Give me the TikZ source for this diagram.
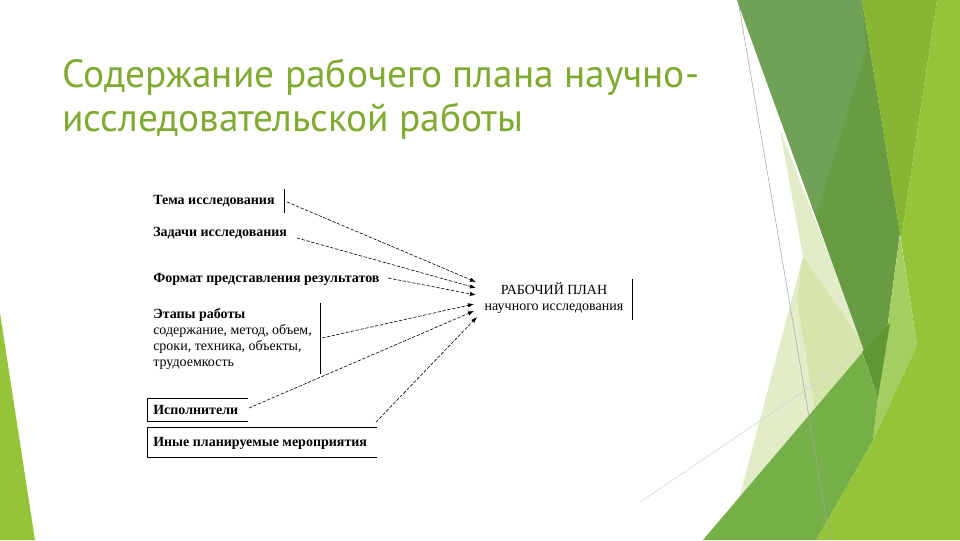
\documentclass[tikz,border=0pt]{standalone}
\usepackage{fontspec}
\setmainfont{Liberation Serif}
\newfontfamily\titlefont{PT Sans}
\usetikzlibrary{arrows.meta}
\definecolor{titlegreen}{RGB}{128,170,50}
\definecolor{paleA}{HTML}{E2ECC8}
\definecolor{paleB}{HTML}{D5E5AC}
\definecolor{bandDark}{HTML}{699B42}
\definecolor{bandLight}{HTML}{71A057}
\definecolor{yellowG}{HTML}{88B632}
\definecolor{brightG}{HTML}{95C33A}
\definecolor{stripeG}{HTML}{A6CD5F}
\definecolor{mediumG}{HTML}{74AF47}
\definecolor{tipG}{HTML}{5E9734}
\begin{document}
\begin{tikzpicture}[x=0.75pt,y=-0.75pt,
  lbl/.style={font=\fontsize{10.5}{12}\selectfont, inner sep=0pt, anchor=base west, align=left},
  blbl/.style={lbl, font=\fontsize{10.5}{12}\selectfont\bfseries},
  ttl/.style={font=\titlefont\fontsize{29.5}{36}\selectfont, text=titlegreen, inner sep=0pt, anchor=base west},
  conn/.style={dashed, dash pattern=on 2.5pt off 1.2pt, line width=0.45pt, -{Latex[length=4.5pt,width=3.2pt]}},
  rule/.style={line width=0.6pt}]
\useasboundingbox (0,0) rectangle (960,540);
\fill[white] (0,0) rectangle (960,540);
% background decoration
\fill[brightG] (0,313) -- (35,540) -- (0,540) -- cycle;
\fill[paleA] (780,130) -- (866,350) -- (712,535) -- (740,495) -- (803,257) -- cycle;
\fill[paleB] (803,257) -- (862,342) -- (862,353) -- (815,410) -- (797,300) -- cycle;
\fill[bandDark] (737,0) -- (862,0) -- (900,233) -- (878,397) -- (862,345) -- cycle;
\fill[bandLight] (737,0) -- (862,0) -- (866,50) -- (816,217) -- cycle;
\fill[yellowG] (862,0) -- (937,0) -- (901,240) -- cycle;
\fill[brightG] (937,0) -- (960,0) -- (960,540) -- (816,540) -- (873,440) -- (917,345) -- (901,240) -- cycle;
\fill[stripeG] (900,235) -- (917,345) -- (873,440) -- (878,397) -- cycle;
\fill[mediumG] (862,353) -- (878,397) -- (873,440) -- (816,540) -- (703,540) -- cycle;
\fill[tipG] (862,352) -- (890,323) -- (878,397) -- cycle;
\draw[gray!70, line width=0.4pt] (738,0) -- (830,540);
\draw[black!18, line width=0.4pt] (640,502) -- (862,352);
% title
\node[ttl] (t1) at (62,87) {Содержание рабочего плана научно-};
\node[ttl] (t2) at (62,131) {исследовательской работы};
% left items
\node[blbl] (tema) at (153,204) {Тема исследования};
\node[blbl] (zad) at (153,236) {Задачи исследования};
\node[blbl] (form) at (153,282) {Формат представления результатов};
\node[lbl, anchor=north west] (etap) at (153,308) {\textbf{Этапы работы}\\содержание, метод, объем,\\сроки, техника, объекты,\\трудоемкость};
\node[blbl] (isp) at (153,414) {Исполнители};
\node[blbl] (inye) at (153,446) {Иные планируемые мероприятия};
% target
\node[font=\fontsize{10.5}{12}\selectfont, inner sep=0pt, align=center, anchor=center] (plan) at (554,298) {РАБОЧИЙ ПЛАН\\научного исследования};
% rules
\draw[rule] (284,189) -- (284,213);
\draw[rule] (320,303) -- (320,374);
\draw[rule] (632,279) -- (632,320);
\draw[rule] (248,398) -- (147,398) -- (147,421) -- (248,421);
\draw[rule] (377,427) -- (147,427) -- (147,457) -- (377,457);
% connector end points
\coordinate (s1) at (287,202);
\coordinate (s2) at (297,238);
\coordinate (s3) at (388,278);
\coordinate (s4) at (322,338);
\coordinate (s5) at (249,408);
\coordinate (s6) at (376,422);
\coordinate (e1) at (476,282);
\coordinate (e2) at (476,288);
\coordinate (e3) at (476,295);
\coordinate (e4) at (474,304);
\coordinate (e5) at (474,311);
\coordinate (e6) at (477,317);
\draw[conn] (s1) -- (e1);
\draw[conn] (s2) -- (e2);
\draw[conn] (s3) -- (e3);
\draw[conn] (s4) -- (e4);
\draw[conn] (s5) -- (e5);
\draw[conn] (s6) -- (e6);
\end{tikzpicture}
\end{document}
